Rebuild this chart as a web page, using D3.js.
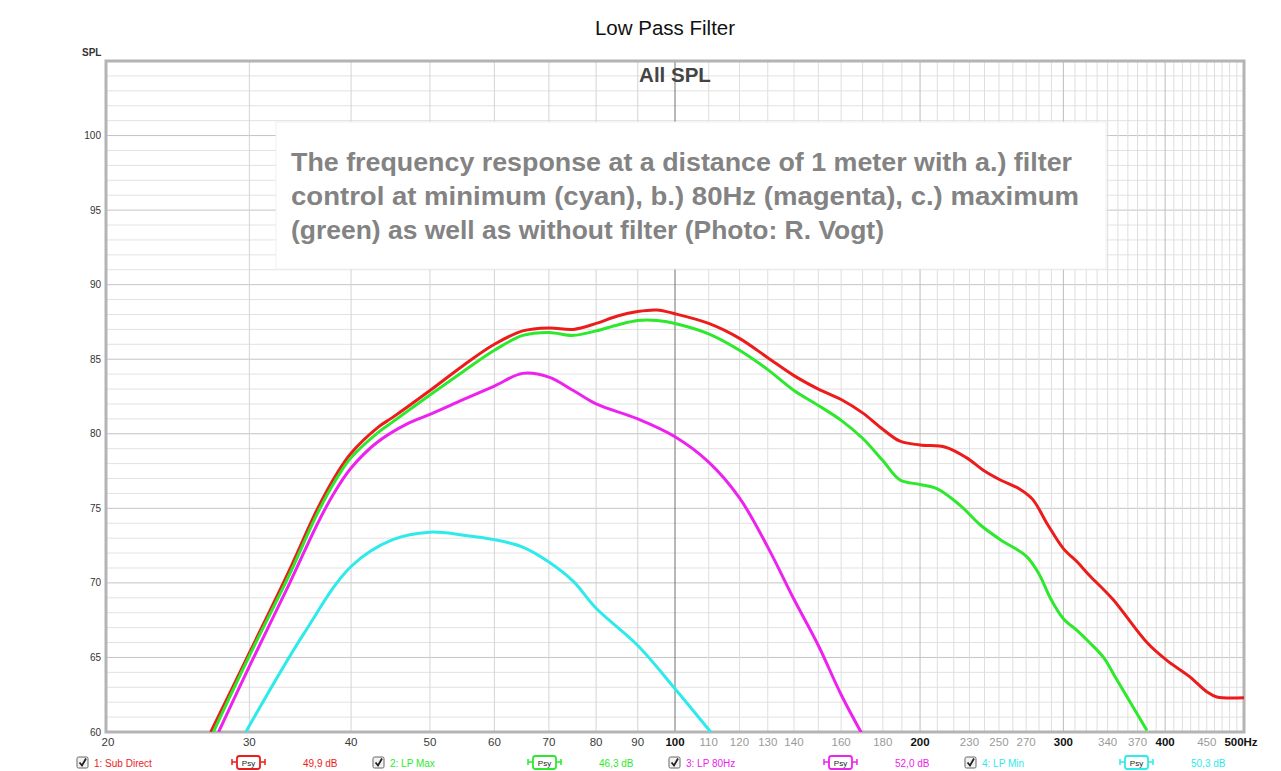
<!DOCTYPE html>
<html><head><meta charset="utf-8">
<script src="https://cdn.jsdelivr.net/npm/d3@7"></script>
<style>
html,body{margin:0;padding:0;background:#fff;}
svg{display:block;font-family:"Liberation Sans",Arial,sans-serif;}
</style></head>
<body>
<svg id="chart" width="1281" height="771"></svg>
<script>
// ---- data ----
const title = "Low Pass Filter";
const subtitle = "All SPL";
const yTicks = [60, 65, 70, 75, 80, 85, 90, 95, 100];
const xTickLabels = [20, 30, 40, 50, 60, 70, 80, 90, 100, 110, 120, 130, 140, 160, 180, 200, 230, 250, 270, 300, 340, 370, 400, 450, 500];
const seriesNames = ["1: Sub Direct", "2: LP Max", "3: LP 80Hz", "4: LP Min"];
const seriesColors = ["#ec1c1c", "#2ee82e", "#ee22ee", "#2eeaea"];
const seriesLevels = ["49,9 dB", "46,3 dB", "52,0 dB", "50,3 dB"];

const redFreq = [26.9, 30, 33.5, 36.4, 38.5, 40, 43.2, 45, 50, 55, 60, 65, 70, 75, 80, 85, 90, 95, 100, 110, 120, 130, 140, 150, 160, 170, 180, 189, 200, 215, 228, 240, 251, 265, 275, 287, 300, 312, 323, 345, 380, 402, 429, 450, 463, 500];
const redDb   = [60, 65.3, 70.7, 75.0, 77.4, 78.7, 80.45, 81.1, 82.9, 84.6, 86.0, 86.9, 87.1, 87.0, 87.4, 87.9, 88.2, 88.3, 88.05, 87.4, 86.4, 85.1, 83.9, 83.0, 82.3, 81.4, 80.3, 79.5, 79.25, 79.1, 78.4, 77.5, 76.9, 76.3, 75.6, 73.9, 72.3, 71.4, 70.5, 68.9, 66.0, 64.8, 63.7, 62.7, 62.35, 62.3];

const greenFreq = [27.1, 30, 33.5, 36.4, 38.5, 40, 43.2, 45, 50, 55, 60, 65, 70, 75, 80, 85, 90, 95, 100, 110, 120, 130, 140, 150, 160, 170, 180, 189, 200, 210, 224, 237, 251, 270, 280, 289, 300, 312, 323, 336, 349, 380];
const greenDb   = [60, 65.1, 70.4, 74.7, 77.1, 78.4, 80.1, 80.8, 82.6, 84.2, 85.6, 86.6, 86.8, 86.6, 86.9, 87.3, 87.6, 87.6, 87.4, 86.7, 85.6, 84.3, 82.9, 81.9, 80.9, 79.7, 78.2, 76.9, 76.6, 76.3, 75.2, 73.9, 72.9, 71.8, 70.6, 69.0, 67.6, 66.8, 66.0, 65.0, 63.5, 60.1];

const magentaFreq = [27.5, 30, 33.5, 36.4, 38, 40, 43, 47, 50, 55, 60, 65, 70, 75, 80, 90, 100, 110, 120, 130, 140, 150, 160, 170];
const magentaDb   = [60, 64.4, 69.8, 74.0, 75.9, 77.7, 79.4, 80.7, 81.3, 82.3, 83.2, 84.05, 83.8, 82.9, 82.0, 81.0, 79.8, 78.1, 75.7, 72.4, 68.9, 65.8, 62.5, 59.8];

const cyanFreq = [29.7, 35, 40, 45, 50, 55, 60, 65, 70, 75, 80, 90, 100, 111];
const cyanDb   = [60, 66.6, 71.1, 72.9, 73.4, 73.2, 72.9, 72.4, 71.4, 70.1, 68.3, 65.8, 62.9, 59.9];

const annotation = [
  "The frequency response at a distance of 1 meter with a.) filter",
  "control at minimum (cyan), b.) 80Hz (magenta), c.) maximum",
  "(green) as well as without filter (Photo: R. Vogt)"
];
const annotationWidths = [781, 788, 593];

// ---- layout ----
const L = 106, R = 1244, T = 61, B = 732;
const svg = d3.select("#chart");
const x = d3.scaleLog().domain([20, 500]).range([L, R]);
const y = d3.scaleLinear().domain([60, 105]).range([B, T]);

// grid
const grid = svg.append("g");
d3.range(61, 105).forEach(v => {
  const major = v % 5 === 0;
  grid.append("line").attr("x1", L).attr("x2", R).attr("y1", y(v)).attr("y2", y(v))
    .attr("stroke", major ? "#c4c4c4" : "#e2e2e2").attr("stroke-width", 1);
});
const vGrid = d3.range(30, 500, 10);
vGrid.forEach(f => {
  let c = "#dedede";
  if (f === 100) c = "#707070";
  else if (f === 200 || f === 300 || f === 400) c = "#bdbdbd";
  else if (f < 100) c = "#d4d4d4";
  grid.append("line").attr("x1", x(f)).attr("x2", x(f)).attr("y1", T).attr("y2", B)
    .attr("stroke", c).attr("stroke-width", 1);
});

// frame
svg.append("rect").attr("x", L).attr("y", T).attr("width", R - L).attr("height", B - T)
  .attr("fill", "none").attr("stroke", "#b4b4b4").attr("stroke-width", 3);

// y axis labels
svg.append("g").selectAll("text").data(yTicks).join("text")
  .attr("x", 101).attr("y", d => y(d) + 3.5).attr("text-anchor", "end")
  .attr("font-size", 10).attr("fill", "#333").text(d => d);
svg.append("text").attr("x", 82).attr("y", 56).attr("font-size", 10).attr("font-weight", "bold")
  .attr("fill", "#333").text("SPL");

// x axis labels
svg.append("g").selectAll("text").data(xTickLabels).join("text")
  .attr("x", d => x(d) + (d === 20 ? 2 : (d === 500 ? -3 : 0))).attr("y", 746).attr("text-anchor", "middle")
  .attr("font-size", 11.5)
  .attr("fill", d => (d % 100 === 0) ? "#111" : (d < 100 ? "#3a3a3a" : "#9a9a9a"))
  .attr("font-weight", d => (d % 100 === 0) ? "bold" : "normal")
  .text(d => d === 500 ? "500Hz" : d);

// curves
const series = [
  {f: redFreq, v: redDb},
  {f: greenFreq, v: greenDb},
  {f: magentaFreq, v: magentaDb},
  {f: cyanFreq, v: cyanDb}
];
svg.append("clipPath").attr("id", "clip").append("rect")
  .attr("x", L).attr("y", T).attr("width", R - L).attr("height", B - T);
const line = d3.line().x(d => x(d[0])).y(d => y(d[1])).curve(d3.curveCatmullRom.alpha(0.5));
const cg = svg.append("g").attr("clip-path", "url(#clip)");
series.forEach((s, i) => {
  cg.append("path").datum(s.f.map((f, j) => [f, s.v[j]]))
    .attr("d", line).attr("fill", "none").attr("stroke", seriesColors[i])
    .attr("stroke-width", 3).attr("stroke-linejoin", "round");
});

// titles
svg.append("text").attr("x", 665).attr("y", 35).attr("text-anchor", "middle")
  .attr("font-size", 20.5).attr("fill", "#111").text(title);
svg.append("text").attr("x", 675).attr("y", 82).attr("text-anchor", "middle")
  .attr("font-size", 20.5).attr("font-weight", "bold").attr("fill", "#444").text(subtitle);

// annotation box
svg.append("rect").attr("x", 276).attr("y", 122).attr("width", 830).attr("height", 147)
  .attr("fill", "#fff").attr("stroke", "#f0f0f0").attr("stroke-width", 1);
svg.append("g").selectAll("text").data(annotation).join("text")
  .attr("x", 291).attr("y", (d, i) => 171 + i * 34)
  .attr("font-size", 25).attr("font-weight", "bold").attr("fill", "#838383")
  .attr("textLength", (d, i) => annotationWidths[i]).attr("lengthAdjust", "spacingAndGlyphs")
  .text(d => d);

// legend
const legX = [77, 373, 669, 965];
const lg = svg.append("g");
seriesNames.forEach((n, i) => {
  const bx = legX[i], c = seriesColors[i];
  const cb = lg.append("g");
  cb.append("rect").attr("x", bx).attr("y", 757).attr("width", 11).attr("height", 11).attr("rx", 1.5)
    .attr("fill", "#f2f2f2").attr("stroke", "#666").attr("stroke-width", 1);
  cb.append("path").attr("d", `M${bx + 2.5},${762.5} L${bx + 5},${765.5} L${bx + 9},${758.5}`)
    .attr("fill", "none").attr("stroke", "#222").attr("stroke-width", 1.8);
  lg.append("text").attr("x", bx + 17).attr("y", 767).attr("font-size", 10).attr("fill", c).text(n);
  // Psy symbol
  const px = bx + 155;
  lg.append("path").attr("d", `M${px},${759} L${px},${765} M${px},${762} L${px + 5},${762} M${px + 28},${762} L${px + 33},${762} M${px + 33},${759} L${px + 33},${765}`)
    .attr("stroke", c).attr("stroke-width", 1.5).attr("fill", "none");
  lg.append("rect").attr("x", px + 5).attr("y", 756).attr("width", 23).attr("height", 13).attr("rx", 2.5)
    .attr("fill", "#fff").attr("stroke", c).attr("stroke-width", 1.8);
  lg.append("text").attr("x", px + 16.5).attr("y", 766).attr("text-anchor", "middle")
    .attr("font-size", 8).attr("fill", "#222").text("Psy");
  lg.append("text").attr("x", bx + 226).attr("y", 767).attr("font-size", 10).attr("fill", c).text(seriesLevels[i]);
});
</script>
</body></html>
